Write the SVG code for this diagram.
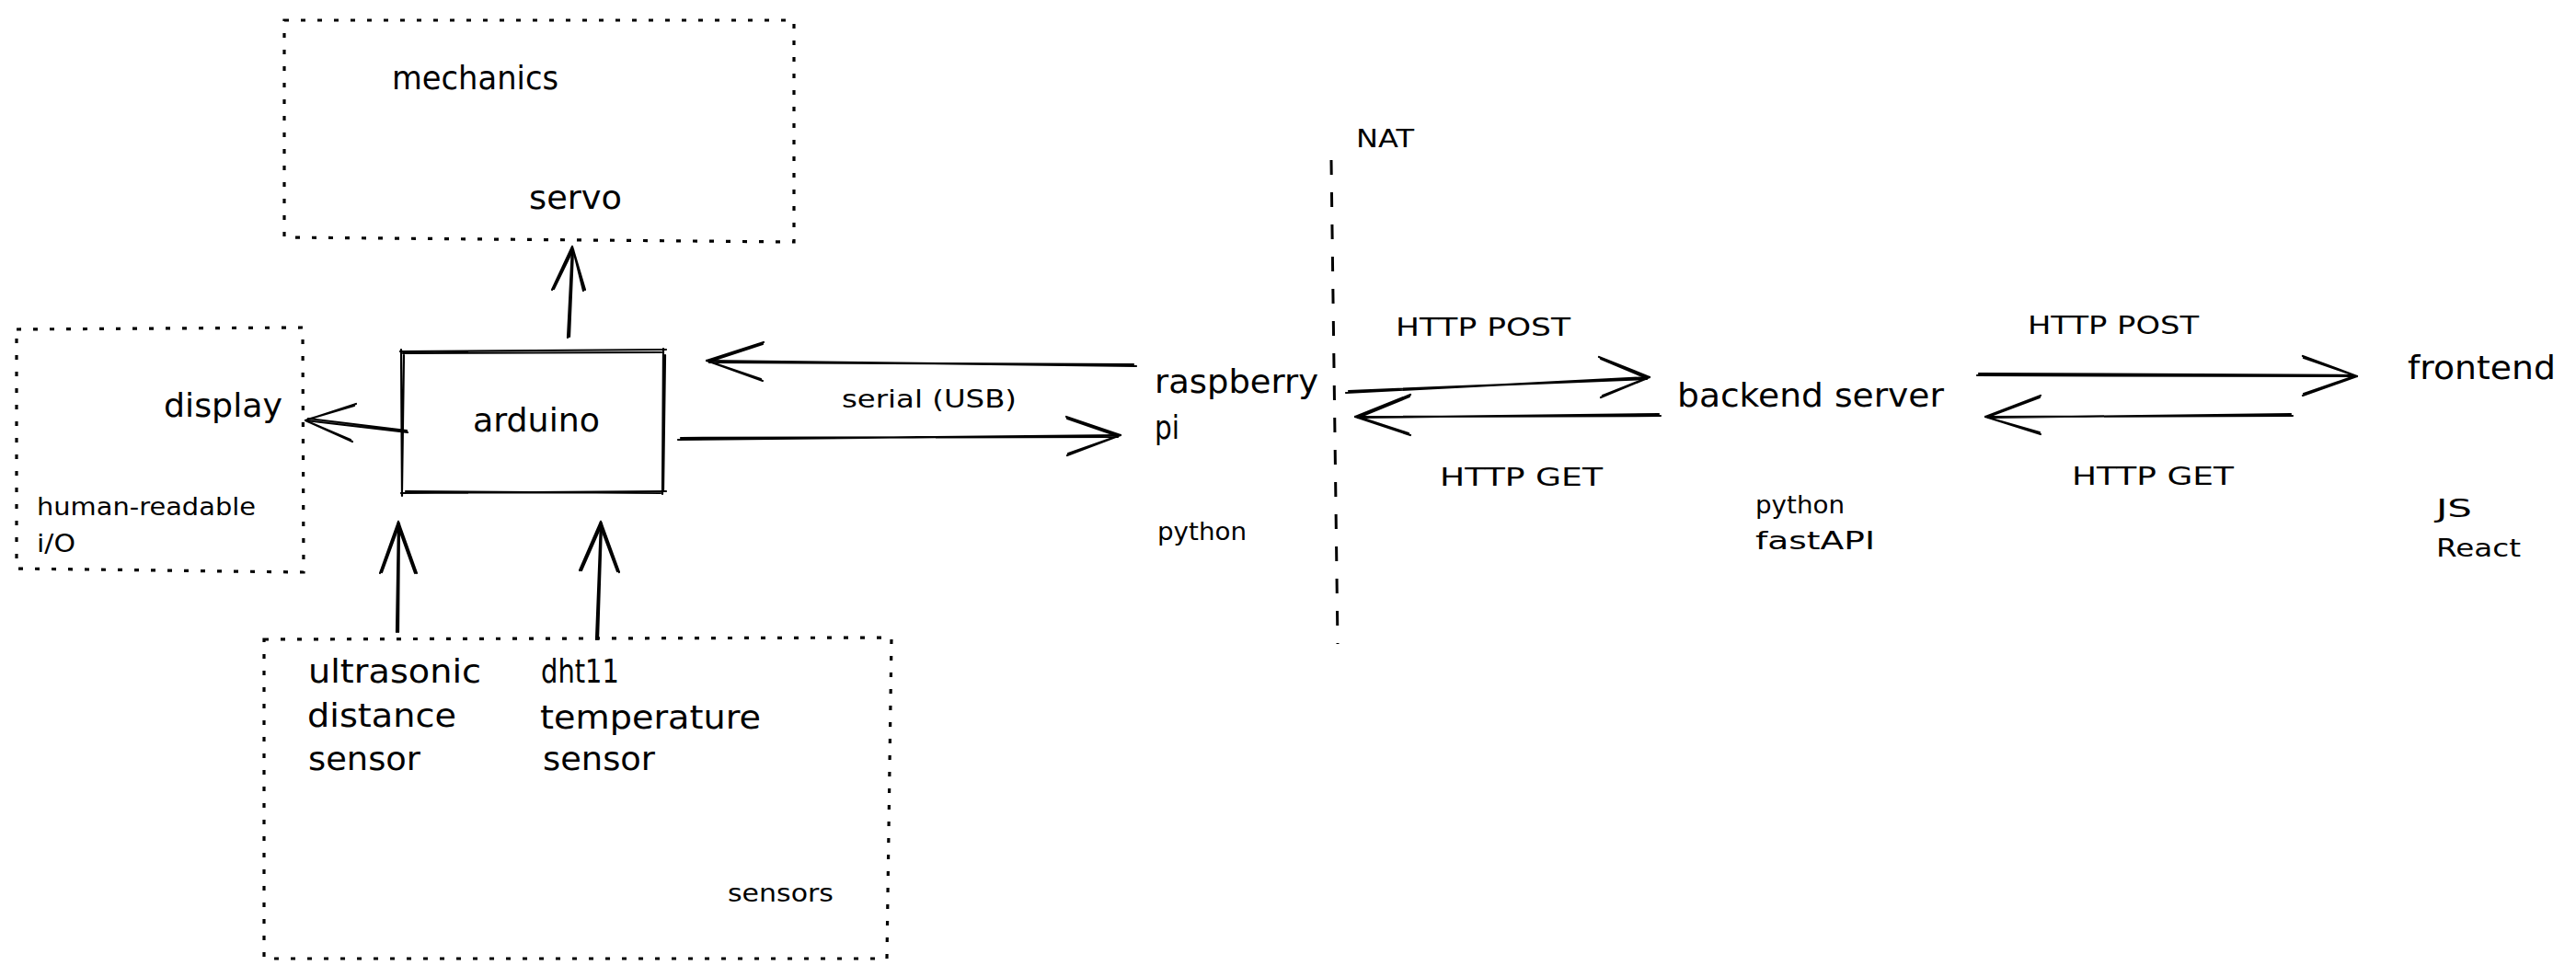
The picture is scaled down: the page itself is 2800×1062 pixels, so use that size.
<svg xmlns="http://www.w3.org/2000/svg" width="2800" height="1062" viewBox="0 0 2800 1062">
  <style>
    .ln { fill: none; stroke: #000; stroke-width: 2.2; stroke-linecap: round; stroke-linejoin: round; }
    .ln2 { fill: none; stroke: #000; stroke-width: 1.4; stroke-linecap: round; stroke-linejoin: round; }
    .dot { fill: none; stroke: #000; stroke-width: 3.2; stroke-dasharray: 5 13; }
    .nat { fill: none; stroke: #000; stroke-width: 3; stroke-dasharray: 16 19; }
    .t { font-family: "DejaVu Sans", "Liberation Sans", sans-serif; fill: #000; }
    .m { font-size: 36px; }
    .s { font-size: 27px; }
  </style>
  <rect width="2800" height="1062" fill="#ffffff"/>

  <g id="mechanics">
    <path class="dot" d="M309,22 L863,22 L863,263 L309,258 Z"/>
    <text class="t m" x="426" y="97" textLength="181" lengthAdjust="spacingAndGlyphs">mechanics</text>
    <text class="t m" x="575" y="227" textLength="101" lengthAdjust="spacingAndGlyphs">servo</text>
  </g>

  <g id="display">
    <path class="dot" d="M18,358 L329,356 L330,622 L18,618 Z"/>
    <text class="t m" x="178" y="453" textLength="129" lengthAdjust="spacingAndGlyphs">display</text>
    <text class="t s" x="40" y="560" textLength="238" lengthAdjust="spacingAndGlyphs">human-readable</text>
    <text class="t s" x="40" y="600" textLength="42" lengthAdjust="spacingAndGlyphs">i/O</text>
  </g>

  <g id="arduino">
    <path class="ln" d="M435,382 L724,380 M438,384 L719,383"/>
    <path class="ln" d="M721,379 L720,537 M723,386 L721,533"/>
    <path class="ln" d="M436,536 L724,534 M441,534 L718,536"/>
    <path class="ln" d="M436,380 L437,539 M439,386 L437,532"/>
    <text class="t m" x="514" y="469" textLength="138" lengthAdjust="spacingAndGlyphs">arduino</text>
  </g>

  <g id="sensors">
    <path class="dot" d="M287,695 L969,693 L964,1042 L287,1042 Z"/>
    <text class="t m" x="335" y="742" textLength="188" lengthAdjust="spacingAndGlyphs">ultrasonic</text>
    <text class="t m" x="334" y="790" textLength="162" lengthAdjust="spacingAndGlyphs">distance</text>
    <text class="t m" x="335" y="837" textLength="122" lengthAdjust="spacingAndGlyphs">sensor</text>
    <text class="t m" x="588" y="742" textLength="85" lengthAdjust="spacingAndGlyphs">dht11</text>
    <text class="t m" x="587" y="792" textLength="240" lengthAdjust="spacingAndGlyphs">temperature</text>
    <text class="t m" x="590" y="837" textLength="122" lengthAdjust="spacingAndGlyphs">sensor</text>
    <text class="t s" x="791" y="980" textLength="115" lengthAdjust="spacingAndGlyphs">sensors</text>
  </g>

  <g id="raspberry-pi">
    <text class="t m" x="1255" y="427" textLength="178" lengthAdjust="spacingAndGlyphs">raspberry</text>
    <text class="t m" x="1255" y="477" textLength="27" lengthAdjust="spacingAndGlyphs">pi</text>
    <text class="t s" x="1258" y="587" textLength="97" lengthAdjust="spacingAndGlyphs">python</text>
  </g>

  <g id="nat">
    <path class="nat" d="M1447,174 L1454,700"/>
    <text class="t s" x="1474" y="160" textLength="63" lengthAdjust="spacingAndGlyphs">NAT</text>
  </g>

  <g id="backend-server">
    <text class="t m" x="1823" y="442" textLength="290" lengthAdjust="spacingAndGlyphs">backend server</text>
    <text class="t s" x="1908" y="558" textLength="97" lengthAdjust="spacingAndGlyphs">python</text>
    <text class="t s" x="1908" y="597" textLength="130" lengthAdjust="spacingAndGlyphs">fastAPI</text>
  </g>

  <g id="frontend">
    <text class="t m" x="2617" y="412" textLength="161" lengthAdjust="spacingAndGlyphs">frontend</text>
    <text class="t s" x="2648" y="562" textLength="39" lengthAdjust="spacingAndGlyphs">JS</text>
    <text class="t s" x="2648" y="605" textLength="92" lengthAdjust="spacingAndGlyphs">React</text>
  </g>

  <g id="connectors">
    <!-- arduino -> mechanics -->
    <path class="ln" d="M617,367 L622,269 M619,366 L623,272"/>
    <path class="ln" d="M622,268 L600,315 M623,271 L602,314 M622,268 L636,315 M623,271 L634,316"/>
    <!-- arduino -> display -->
    <path class="ln" d="M443,470 L332,457 M442,468 L335,455"/>
    <path class="ln" d="M332,457 L387,439 M334,456 L385,441 M332,457 L383,480 M334,458 L381,478"/>
    <!-- ultrasonic -> arduino -->
    <path class="ln" d="M431,687 L433,567 M433,687 L434,569"/>
    <path class="ln" d="M433,567 L413,623 M434,570 L415,622 M433,567 L453,623 M432,570 L451,623"/>
    <!-- dht11 -> arduino -->
    <path class="ln" d="M648,695 L653,567 M650,695 L654,569"/>
    <path class="ln" d="M653,567 L630,620 M654,570 L632,620 M653,567 L673,622 M652,570 L671,621"/>
    <!-- raspberry pi -> arduino -->
    <path class="ln" d="M1235,398 L768,392 M1232,396 L771,394"/>
    <path class="ln" d="M768,392 L830,372 M771,393 L829,374 M768,392 L829,414 M771,393 L827,412"/>
    <!-- arduino -> raspberry pi -->
    <path class="ln" d="M737,478 L1218,473 M740,476 L1215,475"/>
    <path class="ln" d="M1218,473 L1159,453 M1215,474 L1160,455 M1218,473 L1160,495 M1215,474 L1161,493"/>
    <text class="t s" x="915" y="443" textLength="190" lengthAdjust="spacingAndGlyphs">serial (USB)</text>
    <!-- raspberry pi -> backend (POST) -->
    <path class="ln" d="M1463,427 L1793,410 M1466,425 L1790,412"/>
    <path class="ln" d="M1793,410 L1738,388 M1790,411 L1740,390 M1793,410 L1740,432 M1790,411 L1742,430"/>
    <text class="t s" x="1517" y="365" textLength="190" lengthAdjust="spacingAndGlyphs">HTTP POST</text>
    <!-- backend -> raspberry pi (GET) -->
    <path class="ln" d="M1805,452 L1473,453 M1803,450 L1476,454"/>
    <path class="ln" d="M1473,453 L1533,429 M1476,454 L1532,431 M1473,453 L1533,473 M1476,453 L1531,471"/>
    <text class="t s" x="1565" y="528" textLength="177" lengthAdjust="spacingAndGlyphs">HTTP GET</text>
    <!-- backend -> frontend (POST) -->
    <path class="ln" d="M2149,408 L2562,409 M2151,406 L2559,408"/>
    <path class="ln" d="M2562,409 L2503,387 M2559,408 L2504,389 M2562,409 L2503,430 M2559,409 L2504,428"/>
    <text class="t s" x="2204" y="363" textLength="186" lengthAdjust="spacingAndGlyphs">HTTP POST</text>
    <!-- frontend -> backend (GET) -->
    <path class="ln" d="M2492,452 L2158,453 M2490,450 L2161,454"/>
    <path class="ln" d="M2158,453 L2218,430 M2161,453 L2217,432 M2158,453 L2218,472 M2161,454 L2217,470"/>
    <text class="t s" x="2252" y="527" textLength="176" lengthAdjust="spacingAndGlyphs">HTTP GET</text>
  </g>
</svg>
